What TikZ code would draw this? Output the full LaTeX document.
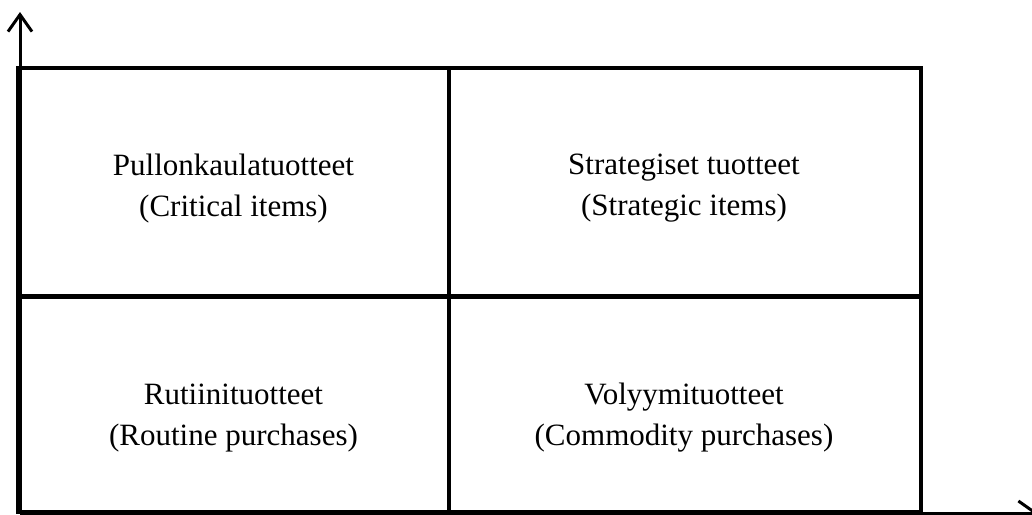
\documentclass[tikz,border=0pt]{standalone}
\usepackage{fontspec}
\setmainfont{Liberation Serif}
\usetikzlibrary{arrows.meta}
\begin{document}
\begin{tikzpicture}[x=1pt,y=-1pt,
  gridline/.style={line width=4.4pt},
  axisline/.style={line width=3pt,-{Straight Barb[length=17pt,width=24pt]}},
  celltext/.style={font=\fontsize{31}{41}\selectfont,align=center,inner sep=0pt}]
\useasboundingbox (0,0) rectangle (1032,514);
\clip (0,0) rectangle (1032,514);
% axes
\coordinate (origin) at (20,513);
\coordinate (ytip) at (20,12);
\coordinate (xtip) at (1038,513);
\draw[axisline] (origin) -- (ytip);
\draw[axisline] (origin) -- (xtip);
% 2x2 grid
\draw[gridline] (18,68) rectangle (921,512);
\draw[gridline] (449,68) -- (449,512);
\draw[gridline] (18,296.5) -- (921,296.5);
% cell texts
\node[celltext] (critical) at (233.5,188.5) {Pullonkaulatuotteet\\(Critical items)};
\node[celltext] (strategic) at (684,188.5) {Strategiset tuotteet\\(Strategic items)};
\node[celltext] (routine) at (233.5,418) {Rutiinituotteet\\(Routine purchases)};
\node[celltext] (commodity) at (684,418) {Volyymituotteet\\(Commodity purchases)};
\end{tikzpicture}
\end{document}
